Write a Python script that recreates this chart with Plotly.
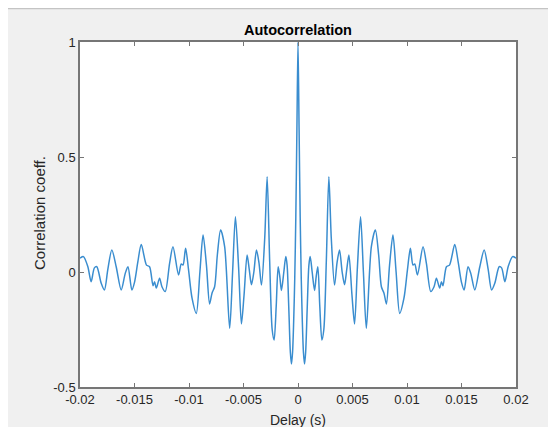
import plotly.graph_objects as go

delay_s = [
    -0.0200, -0.01969, -0.01928, -0.01898, -0.01868, -0.01846, -0.01806, -0.01776,
    -0.01745, -0.01708, -0.01668, -0.01622, -0.01585, -0.0156, -0.01524, -0.0150,
    -0.01469, -0.01438, -0.0139, -0.01362, -0.0133, -0.01316, -0.0130, -0.0127,
    -0.01248, -0.01218, -0.01178, -0.01147, -0.01096, -0.01071, -0.01055, -0.01031,
    -0.01004, -0.00972, -0.00933, -0.0090, -0.00871, -0.0084, -0.00811, -0.00789,
    -0.00765, -0.0074, -0.0071, -0.00673, -0.00627, -0.0060, -0.00574, -0.00545,
    -0.00519, -0.00495, -0.00467, -0.00447, -0.00427, -0.00405, -0.00381, -0.00358,
    -0.00335, -0.00305, -0.00283, -0.0026, -0.00237, -0.00219, -0.0020, -0.00182,
    -0.00167, -0.00152, -0.0013, -0.00112, -0.0010, -0.00085, -0.0007, -0.0006,
    -0.0005, -0.0004, -0.0003, -0.0002, -0.0001,
    0.0,
    0.0001, 0.0002, 0.0003, 0.0004, 0.0005, 0.0006, 0.0007, 0.00085,
    0.0010, 0.00112, 0.0013, 0.00152, 0.00167, 0.00182, 0.0020, 0.00219,
    0.00237, 0.0026, 0.00283, 0.00305, 0.00335, 0.00358, 0.00381, 0.00405,
    0.00427, 0.00447, 0.00467, 0.00495, 0.00519, 0.00545, 0.00574, 0.0060,
    0.00627, 0.00673, 0.0071, 0.0074, 0.00765, 0.00789, 0.00811, 0.0084,
    0.00871, 0.0090, 0.00933, 0.00972, 0.01004, 0.01031, 0.01055, 0.01071,
    0.01096, 0.01147, 0.01178, 0.01218, 0.01248, 0.0127, 0.0130, 0.01316,
    0.0133, 0.01362, 0.0139, 0.01438, 0.01469, 0.0150, 0.01524, 0.0156,
    0.01585, 0.01622, 0.01668, 0.01708, 0.01745, 0.01776, 0.01806, 0.01846,
    0.01868, 0.01898, 0.01928, 0.01969, 0.0200,
]

corr_coeff = [
    0.06, 0.067, 0.023, -0.042, 0.018, 0.023, -0.048, -0.078,
    0.01, 0.096, 0.023, -0.078, -0.006, 0.023, -0.078, -0.045,
    0.045, 0.12, 0.03, 0.023, -0.06, -0.042, -0.07, -0.027,
    -0.064, -0.085, 0.038, 0.11, -0.013, 0.035, 0.03, 0.103,
    0.009, -0.114, -0.18, 0.00, 0.161, 0.03, -0.139, -0.092,
    -0.064, 0.074, 0.183, 0.11, -0.245, 0.00, 0.24, 0.02,
    -0.226, -0.10, 0.074, 0.01, -0.055, 0.00, 0.096, 0.04,
    -0.057, 0.15, 0.414, 0.05, -0.25, -0.296, -0.15, 0.023,
    -0.02, -0.08, 0.00, 0.067, 0.03, -0.15, -0.35, -0.40,
    -0.35, -0.22, -0.03, 0.24, 0.62,
    1.00,
    0.62, 0.24, -0.03, -0.22, -0.35, -0.40, -0.35, -0.15,
    0.03, 0.067, 0.00, -0.08, -0.02, 0.023, -0.15, -0.296,
    -0.25, 0.05, 0.414, 0.15, -0.057, 0.04, 0.096, 0.00,
    -0.055, 0.01, 0.074, -0.10, -0.226, 0.02, 0.24, 0.00,
    -0.245, 0.11, 0.183, 0.074, -0.064, -0.092, -0.139, 0.03,
    0.161, 0.00, -0.18, -0.114, 0.009, 0.103, 0.03, 0.035,
    -0.013, 0.11, 0.038, -0.085, -0.064, -0.027, -0.07, -0.042,
    -0.06, 0.023, 0.03, 0.12, 0.045, -0.045, -0.078, 0.023,
    -0.006, -0.078, 0.023, 0.096, 0.01, -0.078, -0.048, 0.023,
    0.018, -0.042, 0.023, 0.067, 0.06,
]

x_ticks = [-0.02, -0.015, -0.01, -0.005, 0, 0.005, 0.01, 0.015, 0.02]
x_tick_labels = ["-0.02", "-0.015", "-0.01", "-0.005", "0", "0.005", "0.01", "0.015", "0.02"]
y_ticks = [-0.5, 0, 0.5, 1]
y_tick_labels = ["-0.5", "0", "0.5", "1"]

# page body has an 8px margin; figure coordinates below are relative to figure origin
W, H = 556, 427
L, R, T, B = 72, 48, 34, 48
pw, ph = W - L - R, H - T - B

def px_x(p):
    return (p - L) / pw

def px_y(p):
    return (H - p - B) / ph

font_family = "Liberation Sans, Arial, Helvetica, sans-serif"
axis_col = "#262626"
box_col = "#767676"

fig = go.Figure()
fig.add_trace(go.Scatter(
    x=delay_s, y=corr_coeff, mode="lines",
    line=dict(color="#3a8dcf", width=1.5, shape="spline", smoothing=0.8),
    showlegend=False, hoverinfo="skip",
))

fig.update_layout(
    width=W, height=H,
    margin=dict(l=L, r=R, t=T, b=B, pad=0),
    paper_bgcolor="#f0f0f0",
    plot_bgcolor="#ffffff",
    font=dict(family=font_family, size=13, color=axis_col),
    xaxis=dict(
        range=[-0.02, 0.02], tickvals=x_ticks, ticktext=x_tick_labels,
        ticks="inside", ticklen=4, tickcolor=box_col, tickwidth=1,
        showline=True, linecolor=box_col, linewidth=1.5, mirror="ticks",
        showgrid=False, zeroline=False,
        tickfont=dict(size=13, color=axis_col, family=font_family),
    ),
    yaxis=dict(
        range=[-0.5, 1], tickvals=y_ticks, ticktext=y_tick_labels,
        ticks="inside", ticklen=4, tickcolor=box_col, tickwidth=1,
        showline=True, linecolor=box_col, linewidth=1.5, mirror="ticks",
        showgrid=False, zeroline=False,
        tickfont=dict(size=13, color=axis_col, family=font_family),
    ),
    shapes=[
        dict(type="line", xref="paper", yref="paper",
             x0=px_x(0), x1=px_x(W), y0=px_y(0.5), y1=px_y(0.5),
             line=dict(color="#c4c4c4", width=1.5)),
    ],
    annotations=[
        dict(text="<b>Autocorrelation</b>", xref="paper", yref="paper",
             x=px_x(290), y=px_y(22), xanchor="center", yanchor="middle",
             showarrow=False, font=dict(size=14.5, color="#000000", family=font_family)),
        dict(text="Delay (s)", xref="paper", yref="paper",
             x=px_x(290), y=px_y(412), xanchor="center", yanchor="middle",
             showarrow=False, font=dict(size=14, color=axis_col, family=font_family)),
        dict(text="Correlation coeff.", xref="paper", yref="paper",
             x=px_x(31), y=px_y(205), xanchor="center", yanchor="middle",
             textangle=-90, showarrow=False,
             font=dict(size=15, color=axis_col, family=font_family)),
    ],
)

fig.write_html("out.html")
